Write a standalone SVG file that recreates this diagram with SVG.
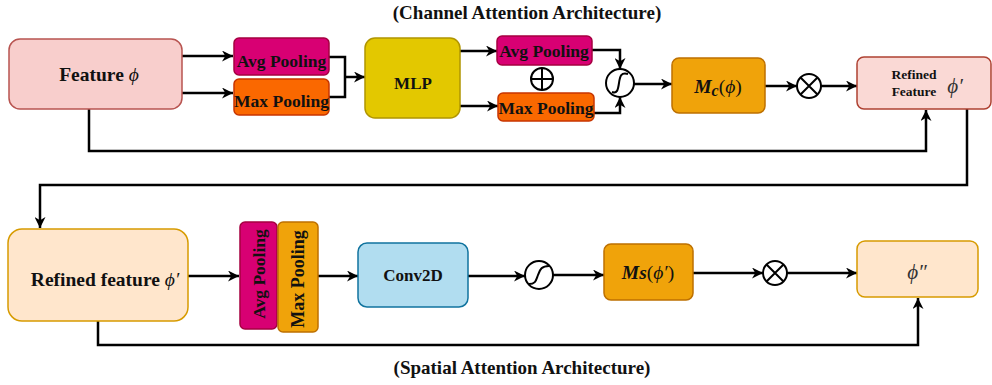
<svg xmlns="http://www.w3.org/2000/svg" width="992" height="385" viewBox="0 0 992 385" font-family="Liberation Serif, Times New Roman, serif">
<defs>
<marker id="ah" viewBox="0 0 10 10" refX="10" refY="5" markerWidth="12" markerHeight="11" orient="auto" markerUnits="userSpaceOnUse">
<path d="M0,0 L10,5 L0,10 L3,5 z" fill="#000"/>
</marker>
<style>
.t{font-weight:bold;fill:#111;}
.c{fill:none;stroke:#000;stroke-width:2.5;}
.a{marker-end:url(#ah);}
.op{fill:#fff;stroke:#000;stroke-width:2;}
.sym{fill:none;stroke:#000;stroke-width:2;}
</style>
</defs>
<rect width="992" height="385" fill="#fff"/>
<text class="t" x="527" y="19" font-size="19" text-anchor="middle">(Channel Attention Architecture)</text>
<text class="t" x="522" y="374" font-size="19" text-anchor="middle">(Spatial Attention Architecture)</text>

<g id="connectors">
<path class="c a" d="M182,56 H233"/>
<path class="c a" d="M182,93 H233"/>
<path class="c" d="M329,57 H345 V97 H329"/>
<path class="c a" d="M345,77 H365"/>
<path class="c a" d="M460,51 H497"/>
<path class="c a" d="M460,106 H498"/>
<path class="c a" d="M592,50 H620 V69"/>
<path class="c a" d="M594,113 H620 V97"/>
<path class="c a" d="M633,84 H672"/>
<path class="c a" d="M765,86 H797"/>
<path class="c a" d="M821,86 H857"/>
<path class="c a" d="M89,109 V151 H926 V110"/>
<path class="c a" d="M967,109 V185 H40 V228"/>
<path class="c a" d="M188,276 H239"/>
<path class="c a" d="M318,276 H358"/>
<path class="c a" d="M468,276 H525"/>
<path class="c a" d="M553,275 H604"/>
<path class="c a" d="M693,273 H763"/>
<path class="c a" d="M787,273 H857"/>
<path class="c a" d="M98,321 V345 H918 V298"/>
</g>

<g id="feature">
<rect x="9" y="39" width="173" height="70" rx="11" fill="#f8cecc" stroke="#b85450" stroke-width="1.5"/>
<text class="t" x="99" y="81" font-size="19.5" text-anchor="middle">Feature <tspan font-style="italic" font-weight="normal">ϕ</tspan></text>
</g>
<g id="avgpool1">
<rect x="234" y="38" width="95" height="37" rx="5" fill="#d80073" stroke="#a50040" stroke-width="1.5"/>
<text class="t" x="281.5" y="67" font-size="17.5" text-anchor="middle">Avg Pooling</text>
</g>
<g id="maxpool1">
<rect x="234" y="79" width="95" height="36" rx="5" fill="#fa6800" stroke="#c73500" stroke-width="1.5"/>
<text class="t" x="281.5" y="107" font-size="17.5" text-anchor="middle">Max Pooling</text>
</g>
<g id="mlp">
<rect x="365" y="38" width="95" height="80" rx="10" fill="#e3c800" stroke="#b09500" stroke-width="1.5"/>
<text class="t" x="413" y="89" font-size="17" text-anchor="middle">MLP</text>
</g>
<g id="avgpool2">
<rect x="497" y="36" width="95" height="29" rx="5" fill="#d80073" stroke="#a50040" stroke-width="1.5"/>
<text class="t" x="544" y="57" font-size="17.5" text-anchor="middle">Avg Pooling</text>
</g>
<g id="plus">
<circle cx="542" cy="79" r="11" fill="#fff" stroke="#000" stroke-width="2"/>
<path class="sym" d="M531,79 H553 M542,68 V90"/>
</g>
<g id="maxpool2">
<rect x="498" y="93" width="96" height="28" rx="5" fill="#fa6800" stroke="#c73500" stroke-width="1.5"/>
<text class="t" x="546" y="114" font-size="17.5" text-anchor="middle">Max Pooling</text>
</g>
<g id="sigmoid1">
<circle class="op" cx="620" cy="83" r="14"/>
<path class="sym" d="M612,92 C617,94 618,90 619,83 C620,76 621,72 628,74"/>
</g>
<g id="mc">
<rect x="672" y="58" width="93" height="55" rx="7" fill="#f0a30a" stroke="#bd7000" stroke-width="1.5"/>
<text class="t" x="718" y="93" font-size="19.5" text-anchor="middle" font-style="italic">M<tspan font-size="16" dy="3">c</tspan><tspan dy="-3" font-weight="normal" font-style="normal">(</tspan><tspan font-weight="normal">ϕ</tspan><tspan font-weight="normal" font-style="normal">)</tspan></text>
</g>
<g id="mult1">
<circle class="op" cx="809" cy="86" r="12"/>
<path class="sym" d="M800.5,77.5 L817.5,94.5 M817.5,77.5 L800.5,94.5"/>
</g>
<g id="refined1">
<rect x="857" y="57" width="134" height="52" rx="7" fill="#fad9d5" stroke="#ae4132" stroke-width="1.5"/>
<text class="t" x="914" y="79" font-size="13.5" text-anchor="middle">Refined</text>
<text class="t" x="914" y="96" font-size="13.5" text-anchor="middle">Feature</text>
<text x="955" y="93" font-size="21" font-style="italic" fill="#333" text-anchor="middle">ϕ′</text>
</g>

<g id="refined2">
<rect x="8" y="229" width="180" height="92" rx="14" fill="#ffe6cc" stroke="#d79b00" stroke-width="1.5"/>
<text class="t" x="105" y="286" font-size="19.5" text-anchor="middle">Refined feature <tspan font-style="italic" font-weight="normal">ϕ′</tspan></text>
</g>
<g id="avgpool3">
<rect x="240" y="222" width="37" height="107" rx="5" fill="#d80073" stroke="#a50040" stroke-width="1.5"/>
<text class="t" transform="translate(265,274) rotate(-90)" font-size="17.5" text-anchor="middle">Avg Pooling</text>
</g>
<g id="maxpool3">
<rect x="278" y="222" width="40" height="110" rx="5" fill="#f0a30a" stroke="#bd7000" stroke-width="1.5"/>
<text class="t" transform="translate(304,279) rotate(-90)" font-size="18" text-anchor="middle">Max Pooling</text>
</g>
<g id="conv2d">
<rect x="358" y="243" width="110" height="64" rx="9" fill="#b1ddf0" stroke="#10739e" stroke-width="1.5"/>
<text class="t" x="413" y="281" font-size="17" text-anchor="middle">Conv2D</text>
</g>
<g id="sigmoid2">
<circle class="op" cx="539" cy="275" r="14"/>
<path class="sym" d="M529,284 C536,284 536,280 538,275 C540,270 541,266 549,266"/>
</g>
<g id="ms">
<rect x="604" y="244" width="89" height="56" rx="7" fill="#f0a30a" stroke="#bd7000" stroke-width="1.5"/>
<text class="t" x="648" y="279" font-size="19.5" text-anchor="middle" font-style="italic">Ms<tspan font-weight="normal" font-style="normal">(</tspan><tspan font-weight="normal">ϕ′</tspan><tspan font-weight="normal" font-style="normal">)</tspan></text>
</g>
<g id="mult2">
<circle class="op" cx="775" cy="273" r="12"/>
<path class="sym" d="M766.5,264.5 L783.5,281.5 M783.5,264.5 L766.5,281.5"/>
</g>
<g id="output">
<rect x="857" y="241" width="121" height="56" rx="8" fill="#ffe6cc" stroke="#d79b00" stroke-width="1.5"/>
<text x="917" y="279" font-size="21" font-style="italic" fill="#333" text-anchor="middle">ϕ″</text>
</g>
</svg>
